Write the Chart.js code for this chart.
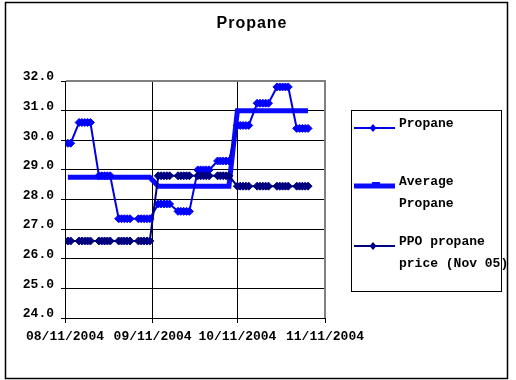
<!DOCTYPE html>
<html>
<head>
<meta charset="utf-8">
<script src="https://cdn.jsdelivr.net/npm/chart.js@4/dist/chart.umd.min.js"></script>
<style>
  html, body { margin: 0; padding: 0; background: #fff; }
  #grafico { display: block; }
</style>
</head>
<body>
<canvas id="grafico" width="516" height="380"></canvas>
<script>
// business days, counted from 08/11/2004 (day 0)
const days = [
  1, 2,
  5, 6, 7, 8, 9,
  12, 13, 14, 15, 16,
  19, 20, 21, 22, 23,
  26, 27, 28, 29, 30,
  33, 34, 35, 36, 37,
  40, 41, 42, 43, 44,
  47, 48, 49, 50, 51,
  54, 55, 56, 57, 58,
  61, 62, 63, 64, 65,
  68, 69, 70, 71, 72,
  75, 76, 77, 78, 79,
  82, 83, 84, 85, 86
];
const propane = [
  29.9, 29.9,
  30.6, 30.6, 30.6, 30.6, 30.6,
  28.8, 28.8, 28.8, 28.8, 28.8,
  27.35, 27.35, 27.35, 27.35, 27.35,
  27.35, 27.35, 27.35, 27.35, 27.35,
  27.85, 27.85, 27.85, 27.85, 27.85,
  27.6, 27.6, 27.6, 27.6, 27.6,
  29.0, 29.0, 29.0, 29.0, 29.0,
  29.3, 29.3, 29.3, 29.3, 29.3,
  30.5, 30.5, 30.5, 30.5, 30.5,
  31.25, 31.25, 31.25, 31.25, 31.25,
  31.8, 31.8, 31.8, 31.8, 31.8,
  30.4, 30.4, 30.4, 30.4, 30.4
];
const averagePropane = [
  28.75, 28.75,
  28.75, 28.75, 28.75, 28.75, 28.75,
  28.75, 28.75, 28.75, 28.75, 28.75,
  28.75, 28.75, 28.75, 28.75, 28.75,
  28.75, 28.75, 28.75, 28.75, 28.75,
  28.45, 28.45, 28.45, 28.45, 28.45,
  28.45, 28.45, 28.45, 28.45, 28.45,
  28.45, 28.45, 28.45, 28.45, 28.45,
  28.45, 28.45, 28.45, 28.45, 28.45,
  31.0, 31.0, 31.0, 31.0, 31.0,
  31.0, 31.0, 31.0, 31.0, 31.0,
  31.0, 31.0, 31.0, 31.0, 31.0,
  31.0, 31.0, 31.0, 31.0, 31.0
];
const ppoPrice = [
  26.6, 26.6,
  26.6, 26.6, 26.6, 26.6, 26.6,
  26.6, 26.6, 26.6, 26.6, 26.6,
  26.6, 26.6, 26.6, 26.6, 26.6,
  26.6, 26.6, 26.6, 26.6, 26.6,
  28.8, 28.8, 28.8, 28.8, 28.8,
  28.8, 28.8, 28.8, 28.8, 28.8,
  28.8, 28.8, 28.8, 28.8, 28.8,
  28.8, 28.8, 28.8, 28.8, 28.8,
  28.45, 28.45, 28.45, 28.45, 28.45,
  28.45, 28.45, 28.45, 28.45, 28.45,
  28.45, 28.45, 28.45, 28.45, 28.45,
  28.45, 28.45, 28.45, 28.45, 28.45
];
const tickDays = [0, 31, 61, 92];
const tickLabels = ['08/11/2004', '09/11/2004', '10/11/2004', '11/11/2004'];
const seriesNames = [['Propane'], ['Average', 'Propane'], ['PPO propane', 'price (Nov 05)']];
const title = 'Propane';

const monoFont = '"Liberation Mono", "DejaVu Sans Mono", monospace';

function pontos(valores) {
  return days.map((d, i) => ({ x: d, y: valores[i] }));
}

// title, legend box, plot border and outer frame
const moldura = {
  id: 'moldura',
  beforeDraw(chart) {
    const ctx = chart.ctx;
    ctx.save();
    ctx.fillStyle = '#fff';
    ctx.fillRect(0, 0, chart.width, chart.height);
    ctx.restore();
  },
  beforeDatasetsDraw(chart) {
    const { ctx, chartArea: a } = chart;
    ctx.save();
    ctx.fillStyle = '#808080';
    ctx.fillRect(a.left + 1, a.top - 1, a.right - a.left, 2);
    ctx.fillRect(a.right - 1, a.top - 1, 2, a.bottom - a.top + 1);
    ctx.restore();
  },
  afterDraw(chart) {
    const ctx = chart.ctx;
    ctx.save();
    // title
    ctx.fillStyle = '#000';
    ctx.font = 'bold 16px "Liberation Sans", Arial, sans-serif';
    ctx.letterSpacing = '1px';
    ctx.textAlign = 'center';
    ctx.textBaseline = 'alphabetic';
    ctx.fillText(title, 252, 28);
    ctx.letterSpacing = '0px';

    // legend
    ctx.strokeStyle = '#000';
    ctx.lineWidth = 1;
    ctx.strokeRect(351.5, 110.5, 150, 181);

    const ds = chart.data.datasets;
    const linhas = [128, 186, 246];
    const textos = [[123.5], [182, 204], [242, 263.5]];
    ctx.font = 'bold 13px ' + monoFont;
    ctx.textAlign = 'left';
    ctx.textBaseline = 'middle';
    for (let i = 0; i < 3; i++) {
      const y = linhas[i];
      ctx.strokeStyle = ds[i].borderColor;
      ctx.lineWidth = ds[i].borderWidth;
      ctx.beginPath();
      ctx.moveTo(354, y);
      ctx.lineTo(395, y);
      ctx.stroke();
      if (ds[i].pointRadius > 0) {
        ctx.fillStyle = ds[i].pointBackgroundColor;
        ctx.beginPath();
        ctx.moveTo(373, y - 4);
        ctx.lineTo(376.5, y);
        ctx.lineTo(373, y + 4);
        ctx.lineTo(369.5, y);
        ctx.closePath();
        ctx.fill();
      } else {
        ctx.fillStyle = ds[i].borderColor;
        ctx.fillRect(372, y - 4, 8, 3);
      }
      ctx.fillStyle = '#000';
      seriesNames[i].forEach((t, k) => ctx.fillText(t, 399, textos[i][k]));
    }

    // outer frame
    ctx.strokeStyle = '#000';
    ctx.lineWidth = 1.5;
    ctx.strokeRect(5.5, 2.5, 502, 376);
    ctx.restore();
  }
};

const ctx = document.getElementById('grafico');
new Chart(ctx, {
  type: 'line',
  data: {
    datasets: [
      {
        label: 'Propane',
        data: pontos(propane),
        borderColor: '#0000E6',
        borderWidth: 2,
        pointStyle: 'rectRot',
        pointRadius: 4,
        pointBorderWidth: 1,
        pointBackgroundColor: '#0000FF',
        pointBorderColor: '#0000FF',
        order: 1
      },
      {
        label: 'Average Propane',
        data: pontos(averagePropane),
        borderColor: '#0A0AFF',
        borderWidth: 5,
        pointRadius: 0,
        order: 2
      },
      {
        label: 'PPO propane price (Nov 05)',
        data: pontos(ppoPrice),
        borderColor: '#000080',
        borderWidth: 2,
        pointStyle: 'rectRot',
        pointRadius: 4,
        pointBorderWidth: 1,
        pointBackgroundColor: '#000080',
        pointBorderColor: '#000080',
        order: 0
      }
    ]
  },
  options: {
    responsive: false,
    animation: false,
    layout: { padding: { left: 6, right: 191, top: 81, bottom: 0 } },
    plugins: {
      legend: { display: false },
      tooltip: { enabled: false }
    },
    scales: {
      x: {
        type: 'linear',
        min: 0,
        max: 92,
        afterBuildTicks: (scale) => { scale.ticks = tickDays.map(v => ({ value: v })); },
        afterFit: (scale) => { scale.height = 62; },
        ticks: {
          callback: (v) => tickLabels[tickDays.indexOf(v)],
          maxRotation: 0,
          autoSkip: false,
          padding: 6,
          color: '#000',
          font: { family: monoFont, size: 13, weight: 'bold' }
        },
        grid: { color: '#000', lineWidth: 1, tickLength: 5 },
        border: { color: '#000', width: 1 }
      },
      y: {
        min: 24,
        max: 32,
        afterFit: (scale) => { scale.width = 59; },
        ticks: {
          stepSize: 1,
          callback: (v) => v.toFixed(1),
          padding: 7,
          labelOffset: -4,
          color: '#000',
          font: { family: monoFont, size: 13, weight: 'bold' }
        },
        grid: { color: '#000', lineWidth: 1, tickLength: 4 },
        border: { color: '#000', width: 1 }
      }
    }
  },
  plugins: [moldura]
});
</script>
</body>
</html>
